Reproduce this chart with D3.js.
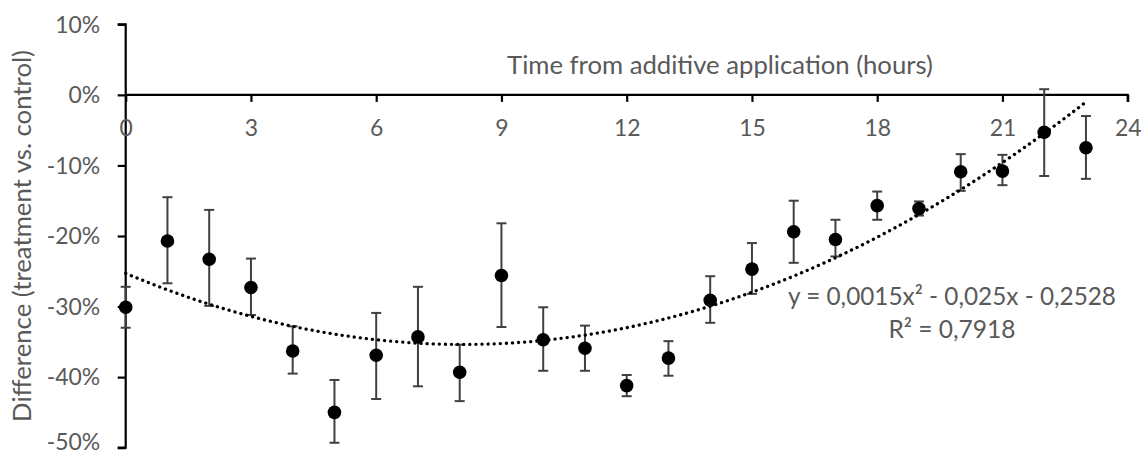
<!DOCTYPE html>
<html><head><meta charset="utf-8">
<script src="https://cdn.jsdelivr.net/npm/d3@7"></script>
<style>
html,body{margin:0;padding:0;background:#fff;}
svg{display:block;font-family:Lato,"Open Sans",sans-serif;}
</style></head>
<body>
<svg id="chart" width="1145" height="456"></svg>
<script>
const hours = [0,1,2,3,4,5,6,7,8,9,10,11,12,13,14,15,16,17,18,19,20,21,22,23];
const meanDiff = [-0.301,-0.207,-0.233,-0.273,-0.363,-0.450,-0.369,-0.343,-0.393,-0.256,-0.347,-0.359,-0.412,-0.373,-0.291,-0.247,-0.194,-0.205,-0.157,-0.161,-0.109,-0.108,-0.053,-0.075];
const upperErr = [-0.272,-0.145,-0.163,-0.232,-0.328,-0.404,-0.309,-0.272,-0.354,-0.182,-0.301,-0.327,-0.397,-0.349,-0.257,-0.210,-0.150,-0.177,-0.137,-0.151,-0.084,-0.085,0.008,-0.030];
const lowerErr = [-0.330,-0.267,-0.299,-0.312,-0.395,-0.493,-0.431,-0.413,-0.434,-0.329,-0.391,-0.391,-0.427,-0.398,-0.323,-0.282,-0.238,-0.229,-0.177,-0.171,-0.136,-0.128,-0.115,-0.119];
const xTicks = [0,3,6,9,12,15,18,21,24];
const yTicks = [-0.5,-0.4,-0.3,-0.2,-0.1,0,0.1];
const xTitle = "Time from additive application (hours)";
const yTitle = "Difference (treatment vs. control)";
const eqLines = ["y = 0,0015x² - 0,025x - 0,2528", "R² = 0,7918"];

const svg = d3.select("#chart");
const x = d3.scaleLinear().domain([0,24]).range([125.7,1127.7]);
const y = d3.scaleLinear().domain([-0.5,0.1]).range([447.7,24.3]);
const textColor = "#595959";

// fit a text's font size so that its width matches the reference width
function fitWidth(sel, target){
  const n = sel.node();
  const fs = parseFloat(getComputedStyle(n).fontSize);
  const w = n.getComputedTextLength();
  if (w > 0) sel.style("font-size", (fs*target/w).toFixed(2)+"px");
  return sel;
}

// y axis
const yAxis = svg.append("g").attr("transform",`translate(${x(0)},0)`)
  .call(d3.axisLeft(y).tickValues(yTicks).tickSize(8).tickPadding(17.5)
    .tickFormat(d => Math.round(d*100) + "%"));
yAxis.select(".domain").attr("stroke","#000").attr("stroke-width",2.2).attr("d",`M-8,${y(0.1)}H0V${y(-0.5)}H-8`);
yAxis.selectAll(".tick line").attr("stroke","#000").attr("stroke-width",2.2);
yAxis.selectAll(".tick text").attr("fill",textColor).style("font-size","23px").style("font-family","Lato");
let tickFs;
{
  const t = yAxis.selectAll(".tick text").filter(d => Math.abs(d-0.1)<1e-9);
  tickFs = 23*45/t.node().getComputedTextLength();
  yAxis.selectAll(".tick text").style("font-size", tickFs.toFixed(2)+"px")
    .attr("dy", d => Math.abs(d+0.5)<1e-9 ? "0.1em" : "0.34em");
}

// x axis at y=0
const xAxis = svg.append("g").attr("transform",`translate(0,${y(0)})`)
  .call(d3.axisBottom(x).tickValues(xTicks).tickSize(7).tickPadding(18)
    .tickFormat(d => String(d)));
xAxis.select(".domain").attr("stroke","#000").attr("stroke-width",2.2).attr("d",`M${x(0)},0H${x(24)}V7`);
xAxis.selectAll(".tick line").attr("stroke","#000").attr("stroke-width",2.2);
xAxis.selectAll(".tick text").attr("fill",textColor).style("font-size",tickFs.toFixed(2)+"px").style("font-family","Lato");

// titles
fitWidth(svg.append("text").attr("x",720).attr("y",74).attr("text-anchor","middle")
  .attr("fill",textColor).style("font-size","23px").text(xTitle), 426);
fitWidth(svg.append("text").attr("transform","translate(31,236) rotate(-90)").attr("text-anchor","middle")
  .attr("fill",textColor).style("font-size","23px").text(yTitle), 372);

// quadratic least-squares trendline from data
function quadFit(xs, ys){
  let S=[0,0,0,0,0], T=[0,0,0];
  xs.forEach((xv,i)=>{ for(let k=0;k<5;k++) S[k]+=Math.pow(xv,k); for(let k=0;k<3;k++) T[k]+=ys[i]*Math.pow(xv,k); });
  const A=[[S[0],S[1],S[2],T[0]],[S[1],S[2],S[3],T[1]],[S[2],S[3],S[4],T[2]]];
  for(let i=0;i<3;i++){ for(let j=i+1;j<3;j++){ const f=A[j][i]/A[i][i]; for(let k=i;k<4;k++) A[j][k]-=f*A[i][k]; } }
  const c=[0,0,0];
  for(let i=2;i>=0;i--){ let s=A[i][3]; for(let k=i+1;k<3;k++) s-=A[i][k]*c[k]; c[i]=s/A[i][i]; }
  return c;
}
const coef = quadFit(hours, meanDiff);
const trendX = d3.range(0, 23.001, 0.1);
const line = d3.line().x(d=>x(d)).y(d=>y(coef[0]+coef[1]*d+coef[2]*d*d));

// error bars
const eb = svg.append("g").attr("stroke","#404040").attr("stroke-width",2);
hours.forEach((h,i)=>{
  eb.append("line").attr("x1",x(h)).attr("x2",x(h)).attr("y1",y(upperErr[i])).attr("y2",y(lowerErr[i]));
  eb.append("line").attr("x1",x(h)-5).attr("x2",x(h)+5).attr("y1",y(upperErr[i])).attr("y2",y(upperErr[i]));
  eb.append("line").attr("x1",x(h)-5).attr("x2",x(h)+5).attr("y1",y(lowerErr[i])).attr("y2",y(lowerErr[i]));
});

// points
svg.append("g").selectAll("circle").data(hours).join("circle")
  .attr("cx",(d)=>x(d)).attr("cy",(d,i)=>y(meanDiff[i])).attr("r",6.8).attr("fill","#000");

// trendline
svg.append("path").datum(trendX).attr("d",line).attr("fill","none").attr("stroke","#000")
  .attr("stroke-width",3.3).attr("stroke-linecap","round").attr("stroke-dasharray","0.1 6");

// equation
fitWidth(svg.append("text").attr("x",952).attr("y",305).attr("text-anchor","middle")
  .attr("fill",textColor).style("font-size","23px").text(eqLines[0]), 328);
fitWidth(svg.append("text").attr("x",952).attr("y",338).attr("text-anchor","middle")
  .attr("fill",textColor).style("font-size","23px").text(eqLines[1]), 127);
</script>
</body></html>
